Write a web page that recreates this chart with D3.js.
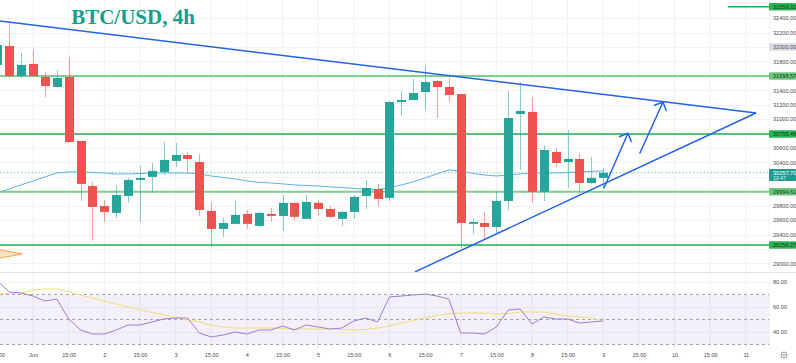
<!DOCTYPE html>
<html>
<head>
<meta charset="utf-8">
<script src="https://cdnjs.cloudflare.com/ajax/libs/d3/7.8.5/d3.min.js"></script>
<style>
    body { margin: 0; background: #fff; }
    svg { display: block; font-family: "Liberation Sans", Arial, sans-serif; }
</style>
</head>
<body>
<svg id="chart"></svg>
<script>
var consts = {
    width: 796,
    height: 363,
    plotRight: 769,
    priceBottom: 272,
    rsiTop: 273,
    rsiBottom: 349
};

// 4h candles, May 31 15:00 .. Jun 9 03:00
var opens = [31751, 32014, 31598, 31765, 31585, 31446, 31585, 30698, 30075, 29798, 29701, 29936, 30158, 30200, 30269, 30421, 30504, 30407, 29729, 29479, 29549, 29687, 29521, 29687, 29659, 29840, 29618, 29840, 29756, 29618, 29715, 29936, 30033, 29909, 31238, 31266, 31377, 31529, 31446, 31349, 29549, 29562, 29507, 29867, 31072, 31100, 29992, 30546, 30407, 30449, 30116, 30186];
var highs = [32055, 32360, 31917, 31958, 31654, 31681, 31862, 30698, 30130, 29881, 30089, 30186, 30352, 30393, 30684, 30670, 30546, 30518, 29853, 29632, 29867, 29742, 29715, 29770, 29950, 29840, 29950, 29881, 29798, 29729, 29950, 30158, 30103, 31252, 31391, 31557, 31737, 31543, 31571, 31349, 29632, 29715, 30006, 31391, 31515, 31308, 30643, 30601, 30850, 30532, 30477, 30324];
var lows = [31723, 31571, 31571, 31585, 31308, 31432, 30670, 29867, 29313, 29576, 29632, 29840, 29576, 29978, 30227, 30338, 30255, 29659, 29230, 29369, 29549, 29479, 29507, 29576, 29452, 29590, 29618, 29659, 29632, 29521, 29618, 29756, 29798, 29867, 31044, 31266, 31127, 31017, 31238, 29216, 29410, 29341, 29410, 29742, 30296, 29840, 29867, 30338, 30047, 29950, 30103, 30047];
var closes = [32028, 31598, 31751, 31598, 31460, 31571, 30684, 30103, 29784, 29715, 29950, 30158, 30186, 30283, 30435, 30504, 30449, 29742, 29479, 29562, 29673, 29549, 29701, 29659, 29840, 29646, 29853, 29756, 29646, 29715, 29923, 30047, 29895, 31238, 31266, 31363, 31515, 31446, 31335, 29562, 29576, 29507, 29867, 31017, 31114, 29992, 30573, 30393, 30449, 30116, 30186, 30257.70];

// moving average on price
var maValues = [29978, 30033, 30089, 30144, 30200, 30255, 30269, 30269, 30262, 30255, 30241, 30241, 30248, 30255, 30255, 30255, 30255, 30241, 30213, 30193, 30172, 30144, 30124, 30116, 30103, 30089, 30082, 30075, 30061, 30054, 30040, 30026, 30026, 30047, 30089, 30130, 30186, 30241, 30296, 30283, 30248, 30227, 30213, 30227, 30241, 30255, 30255, 30255, 30262, 30269, 30276, 30283];

// RSI and its moving average
var rsiValues = [80.8, 72, 71.2, 68.8, 64.8, 66.4, 50.4, 41.6, 38.4, 38.4, 41.6, 45.6, 45.6, 48, 50.4, 51.2, 51.2, 39.2, 36, 37.6, 40, 38.4, 41.6, 41.6, 44.8, 41.6, 45.6, 44, 42.4, 43.2, 48.8, 51.2, 48, 68, 68.8, 69.6, 70.4, 68.8, 66.4, 39.2, 39.2, 38.4, 44, 57.6, 58.4, 46.4, 52, 50.4, 50.4, 47.2, 48, 48.8];
var rsiMaValues = [70.4, 70.8, 71.2, 73.6, 74.4, 74.4, 72.4, 69.6, 67.2, 64.8, 62.4, 60, 58, 55.6, 53.6, 51.6, 49.6, 48, 45.6, 44, 43.2, 43.2, 43.2, 43.2, 42.8, 42.4, 42.4, 42.4, 42.4, 42, 41.6, 42, 43.2, 44.8, 47.2, 49.2, 51.2, 53.2, 54.8, 55.2, 55.2, 55.2, 54.4, 54.8, 56, 56, 56, 54.4, 52.8, 52, 51.2, 48.8];

// time axis, one label every 3 bars starting at bar 0
var tickLabels = ["15:00", "Jun", "15:00", "2", "15:00", "3", "15:00", "4", "15:00", "5", "15:00", "6", "15:00", "7", "15:00", "8", "15:00", "9", "15:00", "10", "15:00", "11"];
var priceTicks = [29000, 29200, 29400, 29600, 29800, 30000, 30200, 30400, 30600, 30800, 31000, 31200, 31400, 31600, 31800, 32000, 32200, 32400];
var rsiTicks = [40, 60, 80];
var rsiLevels = [30, 50, 70];

// drawings: horizontal levels, trend lines, arrows
var levelPrices = [32559.32, 31598.57, 30795.48, 29994.61, 29256.27];
var levelStart = [61.5, 0, 0, 0, 0];
var upperTrend = [[0.22, 32360], [63.86, 31086]];
var lowerTrend = [[35.15, 28884], [63.86, 31086]];
var arrows = [
    [[51.06, 30047], [53.08, 30806]],
    [[54.09, 30532], [56.03, 31238]]
];
var pennant = [[-0.6, 29216], [2.07, 29133], [-0.6, 29050]];
var lastPrice = 30257.70;
var countdown = "20:47";
var markedPrice = 32000;

var candles = opens.map(function (o, i) {
    return { i: i, o: o, h: highs[i], l: lows[i], c: closes[i] };
});

var x = d3.scaleLinear().domain([0, 63]).range([-2.6, 745.8]);
var y = d3.scaleLinear().domain([29256.27, 31598.57]).range([245, 76]);
var yr = d3.scaleLinear().domain([30, 70]).range([344.5, 294.5]);

var vis = d3.select("#chart")
    .attr("width", consts.width)
    .attr("height", consts.height);

var defs = vis.append("defs");
defs.append("clipPath").attr("id", "clipPrice")
    .append("rect").attr("x", 0).attr("y", 0).attr("width", consts.plotRight).attr("height", consts.priceBottom);
defs.append("clipPath").attr("id", "clipRsi")
    .append("rect").attr("x", 0).attr("y", consts.rsiTop).attr("width", consts.plotRight).attr("height", consts.rsiBottom - consts.rsiTop);

// ---------------------------------------------------------------- grid
var grid = vis.append("g").attr("class", "grid");
var vTicks = d3.range(0, 64, 3);
grid.selectAll(".vgrid")
    .data(vTicks)
    .enter()
    .append("line")
    .attr("x1", function (d) { return x(d); })
    .attr("x2", function (d) { return x(d); })
    .attr("y1", 0)
    .attr("y2", consts.rsiBottom)
    .attr("stroke", "#eef0f5")
    .attr("stroke-width", 1);

grid.selectAll(".hgrid")
    .data(priceTicks)
    .enter()
    .append("line")
    .attr("x1", 0)
    .attr("x2", consts.plotRight)
    .attr("y1", function (d) { return Math.round(y(d)) + 0.5; })
    .attr("y2", function (d) { return Math.round(y(d)) + 0.5; })
    .attr("stroke", "#f1f3f7");

grid.selectAll(".rgrid")
    .data(rsiTicks)
    .enter()
    .append("line")
    .attr("x1", 0)
    .attr("x2", consts.plotRight)
    .attr("y1", function (d) { return Math.round(yr(d)) + 0.5; })
    .attr("y2", function (d) { return Math.round(yr(d)) + 0.5; })
    .attr("stroke", "#f1f3f7");

// panel separators
vis.append("line")
    .attr("x1", 0).attr("x2", consts.width)
    .attr("y1", consts.priceBottom + 0.5).attr("y2", consts.priceBottom + 0.5)
    .attr("stroke", "#e0e3eb");
vis.append("line")
    .attr("x1", consts.plotRight + 0.5).attr("x2", consts.plotRight + 0.5)
    .attr("y1", 0).attr("y2", consts.rsiBottom)
    .attr("stroke", "#f0f2f6");

// ---------------------------------------------------------------- price panel
var price = vis.append("g").attr("clip-path", "url(#clipPrice)");

// level lines
price.selectAll(".level")
    .data(levelPrices)
    .enter()
    .append("line")
    .attr("x1", function (d, i) { return x(levelStart[i]); })
    .attr("x2", consts.plotRight)
    .attr("y1", function (d) { return y(d); })
    .attr("y2", function (d) { return y(d); })
    .attr("stroke", function (d, i) { return i % 2 ? "#7fd08f" : "#1fae4f"; })
    .attr("stroke-width", function (d, i) { return i % 2 ? 2.2 : 1.4; });

// last price dotted line
price.append("line")
    .attr("x1", 0).attr("x2", consts.plotRight)
    .attr("y1", y(lastPrice)).attr("y2", y(lastPrice))
    .attr("stroke", "#7cc4bd")
    .attr("stroke-width", 1)
    .attr("stroke-dasharray", "1.5,2");

// moving average
price.append("path")
    .datum(maValues)
    .attr("fill", "none")
    .attr("stroke", "#5eb1f0")
    .attr("stroke-width", 1)
    .attr("d", d3.line()
        .x(function (d, i) { return x(i); })
        .y(function (d) { return y(d); }));

// candles
var candle = price.selectAll(".candle")
    .data(candles)
    .enter()
    .append("g")
    .attr("class", "candle");

function candleColor(d) { return d.c >= d.o ? "#26a69a" : "#ef5350"; }

candle.append("line")
    .attr("x1", function (d) { return Math.round(x(d.i)) + 0.5; })
    .attr("x2", function (d) { return Math.round(x(d.i)) + 0.5; })
    .attr("y1", function (d) { return y(d.h); })
    .attr("y2", function (d) { return y(d.l); })
    .attr("stroke", candleColor)
    .attr("stroke-opacity", 0.55)
    .attr("stroke-width", 1);

candle.append("rect")
    .attr("x", function (d) { return Math.round(x(d.i)) - 4; })
    .attr("width", 9)
    .attr("y", function (d) { return y(Math.max(d.o, d.c)); })
    .attr("height", function (d) { return Math.max(1.5, Math.abs(y(d.o) - y(d.c))); })
    .attr("fill", candleColor);

// trend lines
function toPx(p) { return [x(p[0]), y(p[1])]; }
var trendLine = d3.line()
    .x(function (d) { return x(d[0]); })
    .y(function (d) { return y(d[1]); });

[upperTrend, lowerTrend].forEach(function (t) {
    price.append("path")
        .datum(t)
        .attr("fill", "none")
        .attr("stroke", "#2463e6")
        .attr("stroke-width", 1.5)
        .attr("d", trendLine);
});

// arrows with hand made heads
arrows.forEach(function (a) {
    var p0 = toPx(a[0]), p1 = toPx(a[1]);
    var ang = Math.atan2(p0[1] - p1[1], p0[0] - p1[0]);
    var len = 9, spread = Math.PI / 4;
    var b1 = [p1[0] + len * Math.cos(ang - spread), p1[1] + len * Math.sin(ang - spread)];
    var b2 = [p1[0] + len * Math.cos(ang + spread), p1[1] + len * Math.sin(ang + spread)];
    price.append("path")
        .attr("fill", "none")
        .attr("stroke", "#2463e6")
        .attr("stroke-width", 1.5)
        .attr("stroke-linecap", "round")
        .attr("stroke-linejoin", "round")
        .attr("d", "M" + p0 + "L" + p1 + "M" + b1 + "L" + p1 + "L" + b2);
});

// pennant drawing cut at the left edge
price.append("polygon")
    .attr("points", pennant.map(function (p) { return toPx(p).join(","); }).join(" "))
    .attr("fill", "#fdd9b5")
    .attr("fill-opacity", 0.8)
    .attr("stroke", "#ff9f43")
    .attr("stroke-width", 1);

// title
vis.append("text")
    .attr("x", 133)
    .attr("y", 24)
    .attr("text-anchor", "middle")
    .attr("font-family", "'Liberation Serif', 'DejaVu Serif', serif")
    .attr("font-weight", "bold")
    .attr("font-size", 21)
    .attr("fill", "#13a08b")
    .text("BTC/USD, 4h");

// ---------------------------------------------------------------- rsi panel
var rsi = vis.append("g").attr("clip-path", "url(#clipRsi)");

rsi.append("rect")
    .attr("x", 0)
    .attr("width", consts.plotRight)
    .attr("y", yr(70))
    .attr("height", yr(30) - yr(70))
    .attr("fill", "#7e57c2")
    .attr("fill-opacity", 0.09);

rsi.selectAll(".rlevel")
    .data(rsiLevels)
    .enter()
    .append("line")
    .attr("x1", 0).attr("x2", consts.plotRight)
    .attr("y1", function (d) { return yr(d); })
    .attr("y2", function (d) { return yr(d); })
    .attr("stroke", "#a3a6af")
    .attr("stroke-width", 1)
    .attr("stroke-dasharray", "3,3");

rsi.append("path")
    .datum(rsiMaValues)
    .attr("fill", "none")
    .attr("stroke", "#f8dc72")
    .attr("stroke-width", 1)
    .attr("d", d3.line()
        .x(function (d, i) { return x(i); })
        .y(function (d) { return yr(d); }));

rsi.append("path")
    .datum(rsiValues)
    .attr("fill", "none")
    .attr("stroke", "#9a7fd1")
    .attr("stroke-width", 1)
    .attr("d", d3.line()
        .x(function (d, i) { return x(i); })
        .y(function (d) { return yr(d); }));

// ---------------------------------------------------------------- axes
var axisFont = 5.6;
var fmt = d3.format(".2f");
var tagPrices = levelPrices.concat([markedPrice]);

// the axis hides a tick label when a price tag sits on top of it
function tickHidden(t) {
    var ty = y(t);
    if (tagPrices.some(function (p) { return Math.abs(y(p) - ty) < 6; })) return true;
    var d = ty - y(lastPrice);
    return d > -7 && d < 11;
}

var priceAxis = vis.append("g")
    .attr("transform", "translate(" + consts.plotRight + ",0)")
    .call(d3.axisRight(y).tickValues(priceTicks.filter(function (t) { return !tickHidden(t); }))
        .tickSize(0).tickPadding(4).tickFormat(fmt));
var rsiAxis = vis.append("g")
    .attr("transform", "translate(" + consts.plotRight + ",0)")
    .call(d3.axisRight(yr).tickValues(rsiTicks).tickSize(0).tickPadding(4).tickFormat(fmt));
var timeAxis = vis.append("g")
    .attr("transform", "translate(0," + consts.rsiBottom + ")")
    .call(d3.axisBottom(x).tickValues(vTicks).tickSize(0).tickPadding(4)
        .tickFormat(function (d, i) { return tickLabels[i]; }));

[priceAxis, rsiAxis, timeAxis].forEach(function (a) {
    a.select(".domain").remove();
    a.selectAll("text")
        .attr("font-family", "'Liberation Sans', Arial, sans-serif")
        .attr("font-size", axisFont)
        .attr("fill", "#4a4d57");
});

// price tags on the axis
function priceTag(value, bg, fg, extra) {
    var h = extra ? 12 : 7.5;
    var top = y(value) - 3.75;
    var g = vis.append("g");
    g.append("rect")
        .attr("x", consts.plotRight)
        .attr("y", top)
        .attr("width", consts.width - consts.plotRight)
        .attr("height", h)
        .attr("rx", 1)
        .attr("fill", bg);
    g.append("text")
        .attr("x", consts.plotRight + 4)
        .attr("y", y(value) + 2)
        .attr("font-size", axisFont)
        .attr("fill", fg)
        .text(fmt(value));
    if (extra) {
        g.append("text")
            .attr("x", consts.plotRight + 4)
            .attr("y", y(value) + 7)
            .attr("font-size", axisFont - 0.4)
            .attr("fill", fg)
            .attr("fill-opacity", 0.85)
            .text(extra);
    }
}

priceTag(markedPrice, "#d9dbe1", "#50535e");
levelPrices.forEach(function (p, i) {
    priceTag(p, i % 2 ? "#6cc77d" : "#2bb454", "#0f3d1e");
});
priceTag(lastPrice, "#1b9e92", "#ffffff", countdown);

// settings gear
var gear = vis.append("g").attr("transform", "translate(784,355)");
gear.append("circle").attr("r", 3).attr("fill", "none").attr("stroke", "#787b86").attr("stroke-width", 0.8);
gear.append("circle").attr("r", 1).attr("fill", "none").attr("stroke", "#787b86").attr("stroke-width", 0.6);
</script>
</body>
</html>
